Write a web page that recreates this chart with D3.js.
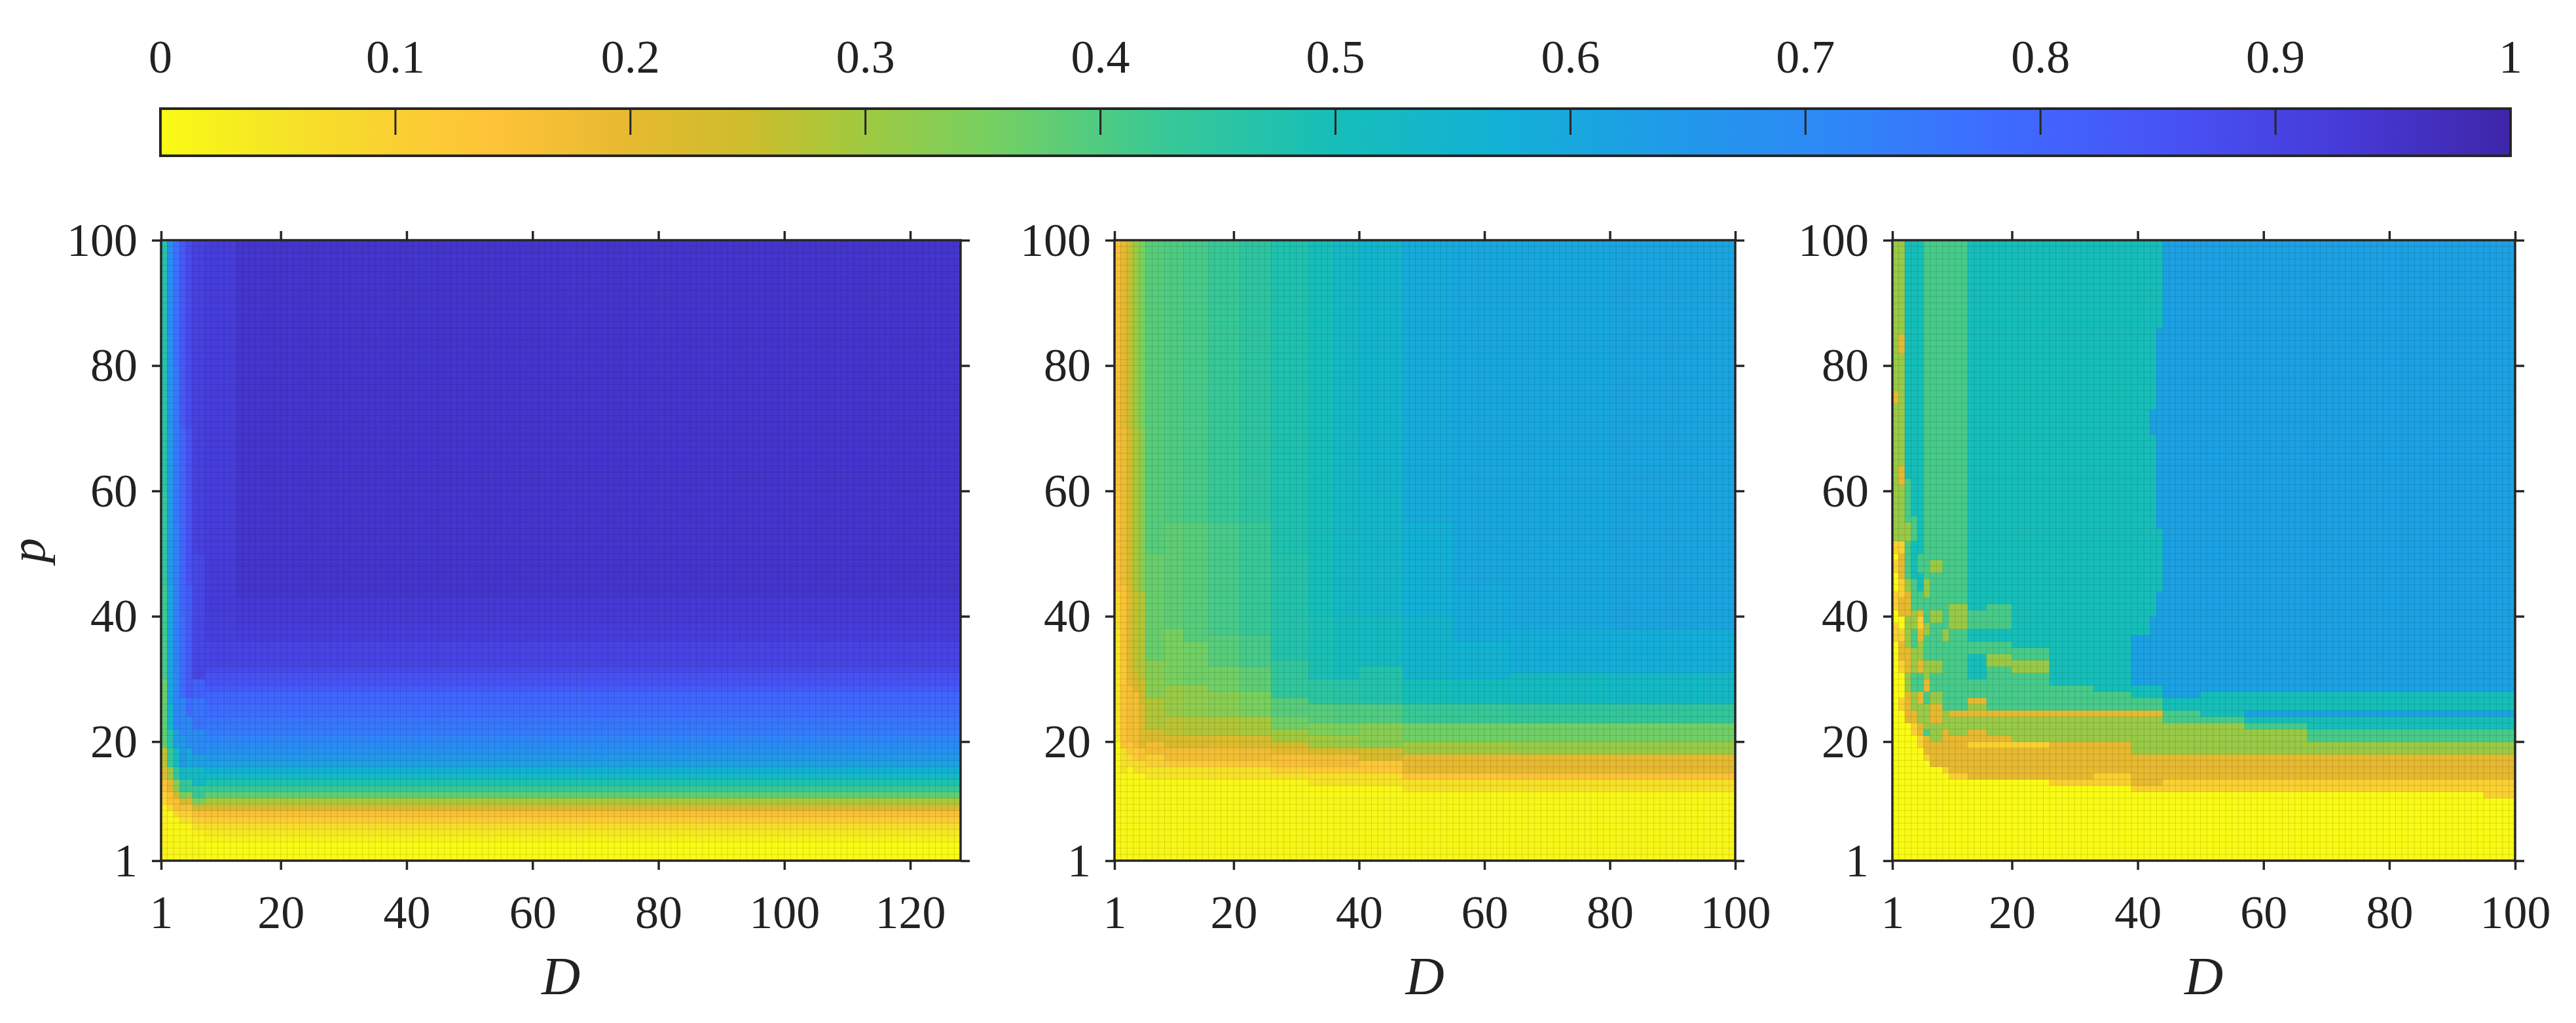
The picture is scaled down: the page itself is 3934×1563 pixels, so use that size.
<!DOCTYPE html>
<html>
<head>
<meta charset="utf-8">
<script src="https://cdn.jsdelivr.net/npm/d3@7"></script>
<style>
  body { margin: 0; background: #fff; }
  text { font-family: "Liberation Serif", "DejaVu Serif", serif; fill: #222; }
</style>
</head>
<body>
<script>
// flipped parula, sampled off the colorbar
var cmapStops  = [0, 0.05, 0.1, 0.143, 0.2, 0.25, 0.286, 0.35, 0.429, 0.5, 0.571, 0.64, 0.714, 0.78, 0.857, 0.93, 1];
var cmapColors = ['#f9fb15', '#f5e526', '#fad032', '#fec338', '#e6b930', '#cdbd2c', '#abc739', '#78d05f',
                  '#37c897', '#16beb9', '#12b1d6', '#209be8', '#2e87f7', '#3e6cff', '#4852f4', '#463ad7', '#3e26a8'];

var cbTicks = [0, 0.1, 0.2, 0.3, 0.4, 0.5, 0.6, 0.7, 0.8, 0.9, 1];
var cbLabels = ['0', '0.1', '0.2', '0.3', '0.4', '0.5', '0.6', '0.7', '0.8', '0.9', '1'];
var pTicks = [1, 20, 40, 60, 80, 100];
var dTicks1 = [1, 20, 40, 60, 80, 100, 120];
var dTicks2 = [1, 20, 40, 60, 80, 100];

// each panel: column edges along D, and for each column a list of [p from, value] runs going up
var p1Cols = [1, 2, 3, 4, 5, 6, 8, 13, 128];
var p1Runs = [
  [[1,0.02],[10,0.09],[12,0.15],[14,0.21],[16,0.26],[19,0.38],[26,0.37],[30,0.41],[37,0.42],[45,0.44],[60,0.46],[75,0.47]],
  [[1,0.01],[9,0.08],[10,0.15],[12,0.2],[14,0.31],[16,0.43],[19,0.47],[22,0.55],[26,0.61],[45,0.64],[70,0.67],[85,0.69]],
  [[1,0.01],[8,0.08],[9,0.16],[11,0.24],[12,0.33],[14,0.44],[16,0.53],[19,0.64],[22,0.71],[32,0.73],[55,0.75],[80,0.77]],
  [[1,0.01],[7,0.06],[8,0.11],[9,0.16],[10,0.24],[11,0.36],[12,0.44],[14,0.54],[16,0.65],[21,0.72],[27,0.78],[40,0.8],[70,0.84]],
  [[1,0.01],[7,0.06],[8,0.1],[9,0.16],[10,0.23],[11,0.33],[12,0.43],[14,0.52],[16,0.6],[19,0.7],[24,0.78],[27,0.83],[45,0.86],[70,0.88]],
  [[1,0.01],[5,0.03],[6,0.06],[7,0.1],[8,0.16],[9,0.24],[10,0.35],[11,0.43],[13,0.53],[16,0.62],[18,0.7],[22,0.76],[27,0.81],[30,0.89],[50,0.91]],
  [[1,0],[4,0.02],[5,0.04],[6,0.07],[7,0.11],[8,0.16],[9,0.23],[10,0.29],[11,0.38],[12,0.43],[13,0.48],[14,0.53],[15,0.57],[16,0.62],[17,0.65],[18,0.68],[19,0.7],[20,0.72],[21,0.74],[22,0.75],[23,0.76],[24,0.78],[26,0.8],[28,0.83],[29,0.86],[31,0.88],[32,0.9],[36,0.915],[40,0.925],[50,0.92]],
  [[1,0],[4,0.02],[5,0.04],[6,0.07],[7,0.11],[8,0.16],[9,0.23],[10,0.29],[11,0.38],[12,0.43],[13,0.48],[14,0.53],[15,0.57],[16,0.62],[17,0.65],[18,0.68],[19,0.7],[20,0.72],[21,0.74],[22,0.75],[23,0.76],[24,0.78],[26,0.8],[28,0.83],[29,0.86],[31,0.88],[32,0.9],[36,0.92],[39,0.933],[43,0.945]]
];

var p2Cols = [1, 2, 3, 4, 5, 6, 9, 12, 16, 21, 26, 32, 36, 40, 47, 55, 64, 80, 100];
var p2Runs = [
  [[1,0.01],[20,0.05],[38,0.08],[44,0.14],[60,0.16]],
  [[1,0.01],[15,0.06],[19,0.15],[29,0.13],[33,0.15],[45,0.18],[70,0.2]],
  [[1,0.01],[16,0.07],[18,0.13],[20,0.17],[29,0.2],[31,0.22],[45,0.24],[70,0.26]],
  [[1,0.01],[15,0.07],[17,0.12],[19,0.17],[28,0.24],[31,0.27],[44,0.29],[70,0.31]],
  [[1,0.01],[15,0.07],[17,0.15],[19,0.22],[26,0.25],[30,0.28],[44,0.33],[70,0.35]],
  [[1,0.01],[14,0.05],[16,0.1],[18,0.17],[20,0.23],[22,0.28],[27,0.33],[33,0.37],[50,0.39]],
  [[1,0.01],[14,0.05],[16,0.12],[17,0.17],[19,0.23],[21,0.27],[24,0.31],[29,0.35],[38,0.38],[55,0.4]],
  [[1,0.01],[14,0.05],[16,0.12],[17,0.17],[19,0.23],[21,0.28],[24,0.32],[29,0.36],[36,0.39],[55,0.41]],
  [[1,0.01],[14,0.06],[16,0.12],[17,0.17],[19,0.22],[21,0.28],[24,0.33],[28,0.36],[32,0.39],[37,0.41],[55,0.43]],
  [[1,0.01],[14,0.06],[16,0.13],[17,0.18],[19,0.23],[21,0.29],[24,0.35],[28,0.38],[32,0.41],[37,0.43],[55,0.45]],
  [[1,0.01],[14,0.06],[15,0.1],[16,0.16],[18,0.2],[19,0.24],[20,0.3],[22,0.36],[24,0.39],[27,0.44],[33,0.47],[50,0.48]],
  [[1,0.01],[13,0.06],[15,0.12],[16,0.17],[18,0.23],[19,0.3],[21,0.34],[23,0.39],[26,0.45],[30,0.49],[40,0.5]],
  [[1,0.01],[13,0.06],[15,0.12],[16,0.17],[18,0.23],[19,0.31],[21,0.35],[23,0.4],[26,0.46],[30,0.51],[40,0.53]],
  [[1,0.01],[13,0.06],[15,0.13],[17,0.23],[19,0.33],[23,0.4],[26,0.47],[32,0.52],[40,0.54],[60,0.55]],
  [[1,0.01],[12,0.06],[14,0.14],[15,0.2],[18,0.3],[20,0.36],[23,0.43],[26,0.5],[30,0.55],[40,0.57],[55,0.59]],
  [[1,0.01],[12,0.06],[14,0.14],[15,0.2],[18,0.3],[20,0.36],[23,0.43],[26,0.51],[30,0.56],[36,0.59],[45,0.6]],
  [[1,0.01],[12,0.06],[14,0.15],[15,0.2],[18,0.31],[20,0.36],[23,0.44],[26,0.52],[31,0.58],[38,0.6]],
  [[1,0.01],[12,0.06],[14,0.15],[15,0.2],[18,0.31],[20,0.36],[23,0.44],[26,0.53],[31,0.58],[38,0.61]]
];

var p3Cols = [1, 2, 3, 4, 5, 6, 7, 9, 10, 13, 16, 20, 26, 33, 39, 42, 43, 44, 50, 57, 67, 95, 100];
var p3Runs = [
  [[1,0],[36,0.1],[39,0],[41,0.1],[44,0],[47,0.1],[49,0],[50,0.1],[52,0.31],[74,0.2],[76,0.31]],
  [[1,0],[25,0.1],[27,0],[31,0.1],[33,0.2],[36,0.1],[38,0],[40,0.2],[43,0.1],[46,0.2],[50,0.1],[52,0.31],[61,0.2],[64,0.31],[82,0.2],[85,0.31]],
  [[1,0],[23,0.2],[28,0.31],[31,0.2],[35,0.31],[40,0.2],[44,0.31],[46,0.41],[52,0.31],[55,0.41],[62,0.5]],
  [[1,0],[21,0.1],[23,0.2],[25,0.31],[28,0.41],[31,0.31],[35,0.41],[38,0.31],[41,0.41],[46,0.5],[52,0.41],[56,0.5]],
  [[1,0],[19,0.1],[21,0.2],[23,0.31],[26,0.2],[28,0.41],[31,0.2],[33,0.31],[36,0.2],[38,0.1],[40,0.2],[41,0.41],[44,0.5],[47,0.41],[50,0.5]],
  [[1,0],[17,0.1],[18,0.2],[21,0.41],[22,0.31],[26,0.41],[28,0.2],[30,0.31],[33,0.41],[37,0.31],[39,0.41],[43,0.31],[46,0.41]],
  [[1,0],[16,0.2],[20,0.31],[23,0.2],[26,0.31],[28,0.41],[31,0.31],[33,0.41],[39,0.31],[41,0.41],[47,0.31],[49,0.41]],
  [[1,0],[15,0.1],[16,0.2],[22,0.31],[25,0.41],[36,0.31],[38,0.41]],
  [[1,0],[14,0.1],[15,0.2],[21,0.31],[24,0.2],[25,0.41],[38,0.31],[42,0.41]],
  [[1,0],[14,0.2],[19,0.1],[20,0.2],[22,0.31],[24,0.2],[25,0.31],[26,0.2],[27,0.41],[30,0.5],[34,0.41],[36,0.5],[38,0.41],[41,0.5]],
  [[1,0],[14,0.2],[19,0.1],[20,0.2],[21,0.31],[24,0.2],[25,0.41],[32,0.31],[34,0.41],[36,0.5],[38,0.41],[42,0.5]],
  [[1,0],[14,0.2],[19,0.1],[20,0.31],[24,0.2],[25,0.41],[31,0.31],[33,0.41],[35,0.5]],
  [[1,0],[13,0.1],[14,0.2],[20,0.31],[24,0.2],[25,0.41],[29,0.5]],
  [[1,0],[13,0.1],[15,0.2],[20,0.31],[24,0.2],[25,0.41],[28,0.5]],
  [[1,0],[12,0.1],[13,0.2],[18,0.31],[24,0.2],[25,0.41],[27,0.5],[29,0.62],[37,0.5]],
  [[1,0],[12,0.1],[13,0.2],[18,0.31],[24,0.2],[25,0.41],[27,0.5],[29,0.62],[40,0.5],[69,0.62],[73,0.5]],
  [[1,0],[12,0.1],[13,0.2],[18,0.31],[24,0.2],[25,0.41],[27,0.5],[29,0.62],[44,0.5],[54,0.62],[86,0.5]],
  [[1,0],[12,0.1],[14,0.2],[18,0.31],[23,0.41],[25,0.5],[27,0.62]],
  [[1,0],[12,0.1],[14,0.2],[18,0.31],[23,0.41],[24,0.5],[28,0.62]],
  [[1,0],[12,0.1],[14,0.2],[18,0.31],[22,0.41],[23,0.5],[24,0.62],[25,0.5],[28,0.62]],
  [[1,0],[12,0.1],[14,0.2],[18,0.31],[20,0.41],[22,0.5],[24,0.62],[25,0.5],[28,0.62]],
  [[1,0],[11,0.1],[14,0.2],[18,0.31],[20,0.41],[22,0.5],[24,0.62],[25,0.5],[28,0.62]]
];

var W = 3934, H = 1563;
var ink = '#262626';
var svg = d3.select('body').append('svg').attr('width', W).attr('height', H);

var color = d3.scaleLinear().domain(cmapStops).range(cmapColors).interpolate(d3.interpolateRgb).clamp(true);

// ---- colorbar
var cb = {x0: 245, x1: 3834, y0: 166, y1: 238};
var cbx = d3.scaleLinear().domain([0, 1]).range([cb.x0, cb.x1]);
var grad = svg.append('defs').append('linearGradient').attr('id', 'cbgrad');
grad.selectAll('stop').data(cmapStops).enter().append('stop')
  .attr('offset', function (d) { return d * 100 + '%'; })
  .attr('stop-color', function (d, i) { return cmapColors[i]; });
svg.append('rect').attr('x', cb.x0).attr('y', cb.y0)
  .attr('width', cb.x1 - cb.x0).attr('height', cb.y1 - cb.y0)
  .attr('fill', 'url(#cbgrad)');
svg.append('g').selectAll('line').data(cbTicks.slice(1, -1)).enter().append('line')
  .attr('x1', cbx).attr('x2', cbx).attr('y1', cb.y0).attr('y2', cb.y0 + 40)
  .attr('stroke', ink).attr('stroke-width', 3);
svg.append('rect').attr('x', cb.x0).attr('y', cb.y0)
  .attr('width', cb.x1 - cb.x0).attr('height', cb.y1 - cb.y0)
  .attr('fill', 'none').attr('stroke', ink).attr('stroke-width', 4);
svg.append('g').selectAll('text').data(cbTicks).enter().append('text')
  .attr('x', cbx).attr('y', 111)
  .attr('text-anchor', 'middle').attr('font-size', 72)
  .text(function (d, i) { return cbLabels[i]; });

// ---- panels
var yTop = 367, yBot = 1315;
var panels = [
  {x0: 246,  x1: 1467, dMax: 128, cols: p1Cols, runs: p1Runs, ticks: dTicks1},
  {x0: 1702, x1: 2650, dMax: 100, cols: p2Cols, runs: p2Runs, ticks: dTicks2},
  {x0: 2890, x1: 3841, dMax: 100, cols: p3Cols, runs: p3Runs, ticks: dTicks2}
];

var y = d3.scaleLinear().domain([1, 100]).range([yBot, yTop]);

panels.forEach(function (P, k) {
  var x = d3.scaleLinear().domain([1, P.dMax]).range([P.x0, P.x1]);
  var g = svg.append('g');

  g.append('clipPath').attr('id', 'clip' + k).append('rect')
    .attr('x', P.x0).attr('y', yTop).attr('width', P.x1 - P.x0).attr('height', yBot - yTop);

  var cells = [];
  P.runs.forEach(function (col, i) {
    var d0 = P.cols[i], d1 = P.cols[i + 1];
    col.forEach(function (r, j) {
      var pEnd = j + 1 < col.length ? col[j + 1][0] : 100;
      cells.push({d0: d0, d1: d1, q0: r[0], q1: pEnd, v: r[1]});
    });
  });

  var heat = g.append('g').attr('clip-path', 'url(#clip' + k + ')');
  heat.selectAll('rect').data(cells).enter().append('rect')
    .attr('x', function (c) { return x(c.d0) - 0.4; })
    .attr('width', function (c) { return x(c.d1) - x(c.d0) + 0.8; })
    .attr('y', function (c) { return y(c.q1) - 0.4; })
    .attr('height', function (c) { return y(c.q0) - y(c.q1) + 0.8; })
    .attr('fill', function (c) { return color(c.v); });

  // faint cell edges, one per data step
  heat.append('g').selectAll('line').data(d3.range(2, P.dMax)).enter().append('line')
    .attr('x1', x).attr('x2', x).attr('y1', yTop).attr('y2', yBot)
    .attr('stroke', '#000').attr('stroke-opacity', 0.12).attr('stroke-width', 1);
  heat.append('g').selectAll('line').data(d3.range(2, 100)).enter().append('line')
    .attr('y1', y).attr('y2', y).attr('x1', P.x0).attr('x2', P.x1)
    .attr('stroke', '#000').attr('stroke-opacity', 0.12).attr('stroke-width', 1);

  // axes, ticks outward on all four sides
  var axB = d3.axisBottom(x).tickValues(P.ticks).tickSize(14).tickSizeOuter(0).tickPadding(38);
  var axT = d3.axisTop(x).tickValues(P.ticks).tickSize(14).tickSizeOuter(0).tickFormat('');
  var axL = d3.axisLeft(y).tickValues(pTicks).tickSize(14).tickSizeOuter(0).tickPadding(22);
  var axR = d3.axisRight(y).tickValues(pTicks).tickSize(14).tickSizeOuter(0).tickFormat('');

  [[axB, 'translate(0,' + yBot + ')'], [axT, 'translate(0,' + yTop + ')'],
   [axL, 'translate(' + P.x0 + ',0)'], [axR, 'translate(' + P.x1 + ',0)']].forEach(function (a) {
    var ag = g.append('g').attr('transform', a[1]).call(a[0]);
    ag.select('.domain').remove();
    ag.selectAll('line').attr('stroke', ink).attr('stroke-width', 3.5);
    ag.selectAll('text').attr('font-size', 72).attr('fill', '#222')
      .attr('font-family', '"Liberation Serif", serif');
  });

  g.append('rect').attr('x', P.x0).attr('y', yTop)
    .attr('width', P.x1 - P.x0).attr('height', yBot - yTop)
    .attr('fill', 'none').attr('stroke', ink).attr('stroke-width', 3.5);

  g.append('text').attr('x', (P.x0 + P.x1) / 2).attr('y', 1519)
    .attr('text-anchor', 'middle').attr('font-size', 82).attr('font-style', 'italic')
    .text('D');
});

svg.append('text')
  .attr('transform', 'translate(68,' + (yTop + yBot) / 2 + ') rotate(-90)')
  .attr('text-anchor', 'middle').attr('font-size', 76).attr('font-style', 'italic')
  .text('p');
</script>
</body>
</html>
